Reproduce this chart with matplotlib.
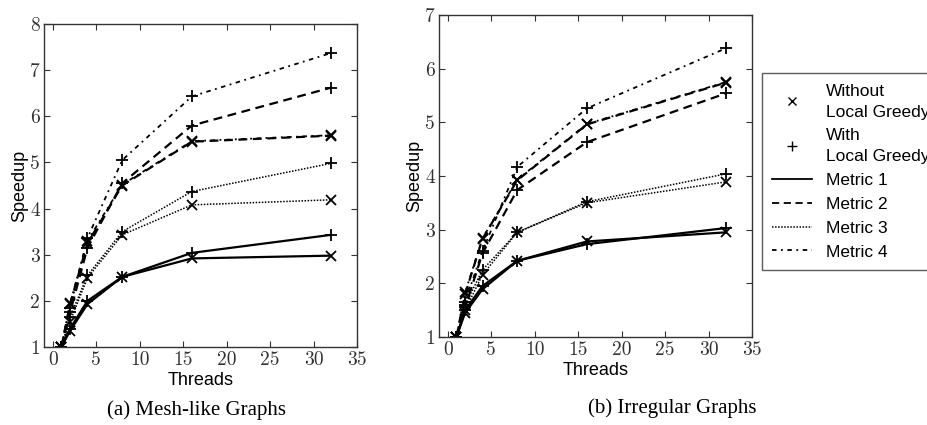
import numpy as np
import matplotlib
matplotlib.use("Agg")
import matplotlib.pyplot as plt
from matplotlib.lines import Line2D

threads = [1, 2, 4, 8, 16, 32]

# (a) Mesh-like graphs
mesh_m1_without = [1.0, 1.35, 1.93, 2.52, 2.92, 2.98]
mesh_m1_with = [1.0, 1.40, 2.00, 2.52, 3.04, 3.43]
mesh_m2_without = [1.0, 1.93, 3.25, 4.50, 5.45, 5.58]
mesh_m2_with = [1.0, 1.75, 3.15, 4.55, 5.80, 6.62]
mesh_m3_without = [1.0, 1.55, 2.50, 3.43, 4.08, 4.19]
mesh_m3_with = [1.0, 1.65, 2.55, 3.50, 4.37, 4.98]
mesh_m4_without = [1.0, 1.95, 3.30, 4.52, 5.46, 5.59]
mesh_m4_with = [1.0, 1.85, 3.36, 5.05, 6.43, 7.37]

# (b) Irregular graphs
irr_m1_without = [1.0, 1.45, 1.89, 2.42, 2.78, 2.95]
irr_m1_with = [1.0, 1.50, 1.95, 2.42, 2.73, 3.03]
irr_m2_without = [1.0, 1.80, 2.83, 3.92, 4.96, 5.74]
irr_m2_with = [1.0, 1.55, 2.56, 3.74, 4.63, 5.54]
irr_m3_without = [1.0, 1.50, 2.16, 2.95, 3.50, 3.89]
irr_m3_with = [1.0, 1.60, 2.25, 2.95, 3.52, 4.04]
irr_m4_without = [1.0, 1.83, 2.84, 3.93, 4.97, 5.75]
irr_m4_with = [1.0, 1.65, 2.60, 4.17, 5.26, 6.38]

metric_names = ["Metric 1", "Metric 2", "Metric 3", "Metric 4"]
styles = {
    "Metric 1": dict(linestyle="-", linewidth=1.6),
    "Metric 2": dict(linestyle=(0, (4, 2.5)), linewidth=1.6),
    "Metric 3": dict(linestyle=(0, (1, 1)), linewidth=1.1),
    "Metric 4": dict(linestyle=(0, (2.5, 2.5, 1, 2.5)), linewidth=1.3),
}

tick_font = "cmr10"
sans = "Liberation Sans"
serif = "Liberation Serif"


def draw(ax, without, with_, ymax):
    for name, yw, yp in zip(metric_names, without, with_):
        st = styles[name]
        ax.plot(threads, yw, color="black", marker="x", markersize=7.5,
                markeredgewidth=1.3, **st)
        ax.plot(threads, yp, color="black", marker="+", markersize=8.5,
                markeredgewidth=1.3, **st)
    ax.set_xlim(-1, 35)
    ax.set_ylim(1, ymax)
    ax.set_xticks(range(0, 36, 5))
    ax.set_yticks(range(1, ymax + 1))
    ax.tick_params(direction="in", top=True, right=True, length=4,
                   labelsize=14, colors="#333333", width=0.8, pad=3)
    for lab in ax.get_xticklabels() + ax.get_yticklabels():
        lab.set_fontfamily(tick_font)
    for sp in ax.spines.values():
        sp.set_color("#333333")
        sp.set_linewidth(1.0)
    ax.set_xlabel("Threads", fontfamily=sans, fontsize=13, labelpad=2)
    ax.set_ylabel("Speedup", fontfamily=sans, fontsize=13, labelpad=1)


fig = plt.figure(figsize=(9.28, 4.25), dpi=100)
ax1 = fig.add_axes([0.0474, 0.1835, 0.3373, 0.760])
ax2 = fig.add_axes([0.4731, 0.2071, 0.3373, 0.7576])

draw(ax1,
     [mesh_m1_without, mesh_m2_without, mesh_m3_without, mesh_m4_without],
     [mesh_m1_with, mesh_m2_with, mesh_m3_with, mesh_m4_with], 8)
draw(ax2,
     [irr_m1_without, irr_m2_without, irr_m3_without, irr_m4_without],
     [irr_m1_with, irr_m2_with, irr_m3_with, irr_m4_with], 7)

handles = [
    Line2D([], [], color="black", marker="x", linestyle="none", markersize=6),
    Line2D([], [], color="black", marker="+", linestyle="none", markersize=7),
]
labels = ["Without\nLocal Greedy", "With\nLocal Greedy"]
for name in metric_names:
    st = dict(styles[name])
    st["linewidth"] = min(st["linewidth"], 1.3)
    handles.append(Line2D([], [], color="black", **st))
    labels.append(name)

leg = fig.legend(handles, labels, loc="upper left",
                 bbox_to_anchor=(0.821, 0.828),
                 bbox_transform=fig.transFigure, frameon=True, fancybox=False,
                 edgecolor="#333333", prop={"family": sans, "size": 12.5},
                 handlelength=2.3, handletextpad=0.8, labelspacing=0.5,
                 borderpad=0.6, borderaxespad=0)
for t in leg.get_texts()[:2]:
    t.set_linespacing(1.5)

fig.text(0.212, 0.035, "(a) Mesh-like Graphs", ha="center", va="center",
         fontfamily=serif, fontsize=15)
fig.text(0.724, 0.04, "(b) Irregular Graphs", ha="center", va="center",
         fontfamily=serif, fontsize=15)

fig.savefig("out.png", dpi=100)
